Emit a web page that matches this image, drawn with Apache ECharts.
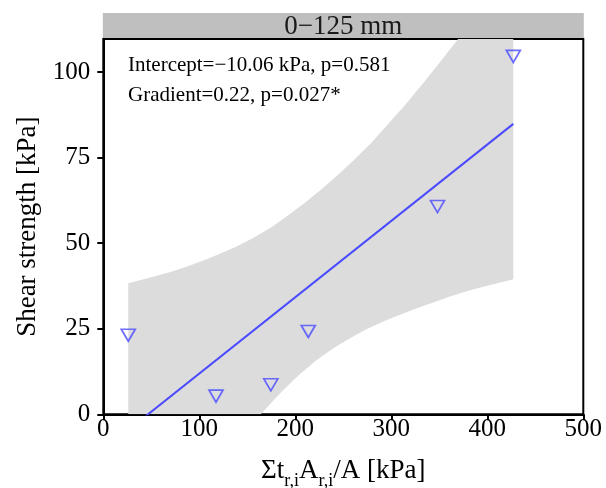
<!DOCTYPE html>
<html>
<head>
<meta charset="utf-8">
<script src="https://cdn.jsdelivr.net/npm/echarts@6/dist/echarts.min.js"></script>
<style>html,body{margin:0;padding:0;background:#fff;}#c{width:606px;height:488px;}</style>
</head>
<body>
<div id="c"></div>
<script>
// ---- data ----
const panelTitle = '0\u2212125 mm';
const annot1 = 'Intercept=\u221210.06 kPa, p=0.581';
const annot2 = 'Gradient=0.22, p=0.027*';
const xTicks = [0, 100, 200, 300, 400, 500];
const yTicks = [0, 25, 50, 75, 100];
// observed points [x, shear strength]
const pointsX = [26.0, 117.4, 174.5, 213.5, 348.1, 427.1];
const pointsY = [23.7, 5.9, 9.2, 24.8, 61.3, 105.2];
// fitted line endpoints
const fitX = [26.0, 427.1];
const fitY = [-4.6, 84.9];
// confidence band: upper edge and lower edge
const upperX = [26, 53, 70, 88, 105, 122, 140, 157, 175, 192, 209, 226, 244, 261, 279, 296, 313, 331, 350, 369, 427.1];
const upperY = [38.3, 40.3, 41.6, 43.3, 45.0, 47.0, 49.2, 51.7, 54.7, 58.0, 61.6, 65.5, 69.9, 74.3, 79.3, 84.6, 90.0, 96.0, 102.7, 109.5, 130.5];
const lowerX = [26, 100, 165, 176, 187.5, 204.9, 222.3, 239.6, 257, 274.4, 291.7, 309, 326.5, 343.7, 361.1, 378.5, 395.8, 427.1];
const lowerY = [-47, -20, 0.3, 3.7, 7.1, 11.8, 15.9, 19.3, 22.2, 24.9, 27.1, 29.1, 31.0, 32.7, 34.4, 36.0, 37.3, 39.5];

const FONT = 'Liberation Serif';
const BLUE = '#4a4aff';

const scatterData = pointsX.map((x, i) => [x, pointsY[i]]);
const fitData = fitX.map((x, i) => [x, fitY[i]]);
const upper = upperX.map((x, i) => [x, upperY[i]]);
const lower = lowerX.map((x, i) => [x, lowerY[i]]);

const chart = echarts.init(document.getElementById('c'), null, {renderer: 'canvas'});
const L = 103.3, R = 583.3, T = 39, B = 414.3;

chart.setOption({
  animation: false,
  backgroundColor: '#fff',
  grid: {left: L, right: 606 - R, top: T, bottom: 488 - B, show: true, containLabel: false,
         outerBoundsMode: 'none',
         borderColor: '#000', borderWidth: 2, backgroundColor: 'transparent'},
  xAxis: {
    type: 'value', min: 0, max: 500, interval: 100,
    name: 'Σt{s|r,i}A{s|r,i}/A [kPa]', nameLocation: 'middle', nameGap: 38,
    nameTextStyle: {fontFamily: FONT, fontSize: 27, color: '#000',
      rich: {s: {fontFamily: FONT, fontSize: 18, color: '#000', padding: [20, 0, 0, 0]}}},
    axisLine: {show: true, onZero: false, lineStyle: {color: '#000', width: 2}},
    axisTick: {show: true, length: 6, lineStyle: {color: '#000', width: 2}},
    axisLabel: {fontFamily: FONT, fontSize: 25, color: '#000', margin: 3,
      formatter: v => xTicks.includes(v) ? String(v) : ''},
    splitLine: {show: false}
  },
  yAxis: {
    type: 'value', min: 0, max: 109.7, interval: 25,
    name: 'Shear strength [kPa]', nameLocation: 'middle', nameGap: 60,
    nameTextStyle: {fontFamily: FONT, fontSize: 27, color: '#000'},
    axisLine: {show: true, onZero: false, lineStyle: {color: '#000', width: 2}},
    axisTick: {show: true, length: 6, lineStyle: {color: '#000', width: 2}},
    axisLabel: {fontFamily: FONT, fontSize: 25, color: '#000', margin: 13, showMaxLabel: false,
      formatter: v => yTicks.includes(v) ? String(v) : ''},
    splitLine: {show: false}
  },
  graphic: [
    {type: 'rect', z: 10, shape: {x: L - 0.5, y: 13, width: R - L + 1, height: T - 13 - 1},
     style: {fill: '#bfbfbf'}},
    {type: 'text', z: 11, x: (L + R) / 2, y: 26.5,
     style: {text: panelTitle, font: '27px "Liberation Serif"', fill: '#1a1a1a', align: 'center', verticalAlign: 'middle'}},
    {type: 'text', z: 11, x: 128, y: 65,
     style: {text: annot1, font: '21px "Liberation Serif"', fill: '#000', align: 'left', verticalAlign: 'middle'}},
    {type: 'text', z: 11, x: 128, y: 95,
     style: {text: annot2, font: '21px "Liberation Serif"', fill: '#000', align: 'left', verticalAlign: 'middle'}}
  ],
  series: [
    {
      type: 'custom', z: 1, clip: true,
      data: [[0, 0]],
      renderItem: (params, api) => {
        const pts = upper.map(p => api.coord(p)).concat(lower.slice().reverse().map(p => api.coord(p)));
        const cs = params.coordSys;
        return {
          type: 'group',
          clipPath: {type: 'rect', shape: {x: cs.x, y: cs.y, width: cs.width, height: cs.height}},
          children: [{type: 'polygon', shape: {points: pts}, style: {fill: '#dcdcdc'}}]
        };
      },
      silent: true
    },
    {
      type: 'line', z: 3, data: fitData, showSymbol: false, clip: true,
      lineStyle: {color: BLUE, width: 2}, silent: true
    },
    {
      type: 'scatter', z: 4, data: scatterData,
      symbol: 'path://M0,0L14,0L7,12Z', symbolSize: [14, 12], symbolOffset: [0, '16.7%'],
      itemStyle: {color: 'rgba(0,0,0,0)', borderColor: BLUE, borderWidth: 1.7},
      silent: true
    }
  ]
});
</script>
</body>
</html>
